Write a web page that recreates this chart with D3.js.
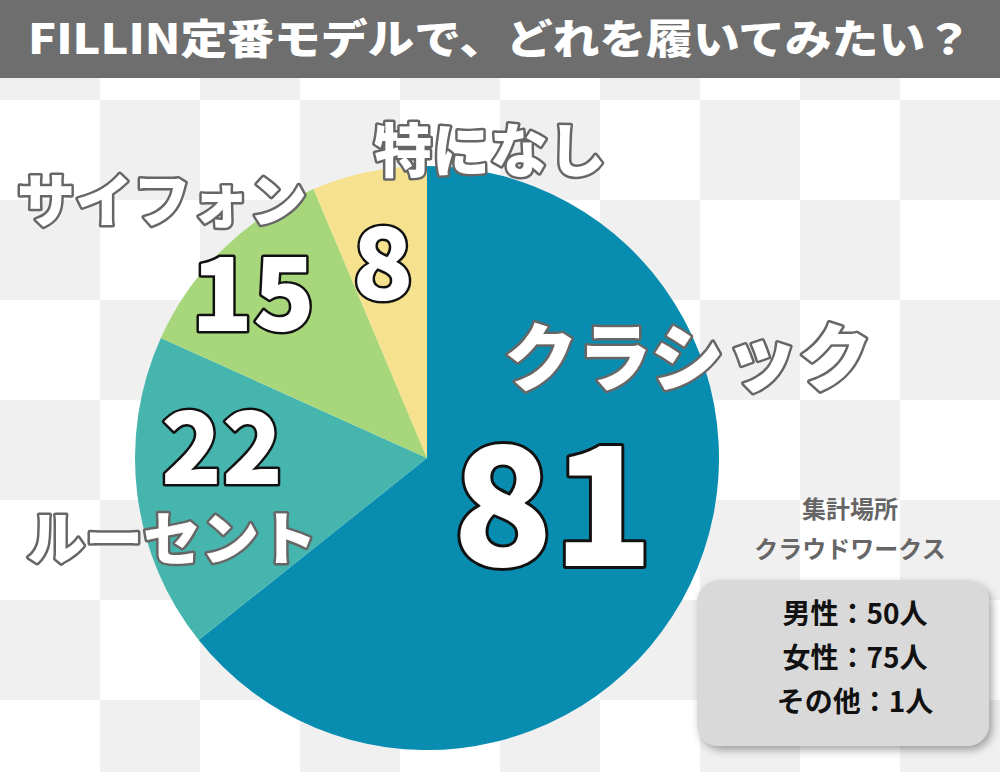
<!DOCTYPE html><html><head><meta charset="utf-8"><script src="https://cdn.jsdelivr.net/npm/d3@7"></script>
<style>body{margin:0}svg{display:block}</style></head><body><svg id="c" width="1000" height="772"></svg>
<script>
const categories=["クラシック","ルーセント","サイフォン","特になし"];
const values=[81,22,15,8];
const colors=["#088db0","#45b5ad","#a7d77a","#f6e28e"];
const title="FILLIN定番モデルで、どれを履いてみたい？";
const notes=["集計場所","クラウドワークス"];
const stats=["男性：50人","女性：75人","その他：1人"];
const F="'Noto Sans CJK JP',sans-serif";
const svg=d3.select("#c");
svg.append("rect").attr("width",1000).attr("height",772).attr("fill","#fff");
for(let r=0;r<8;r++)for(let c=0;c<10;c++)if((r+c)%2==0)svg.append("rect").attr("x",c*100).attr("y",r*100).attr("width",100).attr("height",100).attr("fill","#f0f0f0");
svg.append("rect").attr("width",1000).attr("height",78).attr("fill","#6e6e6e");
svg.append("text").attr("x",500).attr("y",54).attr("text-anchor","middle").attr("fill","#fff").attr("font-family",F).attr("font-weight",900).attr("font-size",41).attr("textLength",944).attr("lengthAdjust","spacingAndGlyphs").text(title);
const cx=427,cy=458,R=292;
const pie=d3.pie().sort(null)(values);
const arc=d3.arc().innerRadius(0).outerRadius(R);
const g=svg.append("g").attr("transform",`translate(${cx},${cy})`);
g.selectAll("path").data(pie).join("path").attr("d",arc).attr("fill",(d,i)=>colors[i]);
const lab=[{x:688,y:385,s:74},{x:172,y:560,s:58},{x:162,y:222,s:58},{x:490,y:172,s:58}];
const num=[{x:553,y:566,s:165},{x:222,y:484,s:100},{x:253,y:331,s:102},{x:383,y:300,s:100}];
categories.forEach((c,i)=>{
 svg.append("text").attr("x",lab[i].x).attr("y",lab[i].y).attr("text-anchor","middle").attr("font-family",F).attr("font-weight",900).attr("font-size",lab[i].s).attr("fill","#fff").attr("stroke","#666").attr("stroke-width",5).attr("paint-order","stroke").attr("stroke-linejoin","round").text(c);
 svg.append("text").attr("x",num[i].x).attr("y",num[i].y).attr("text-anchor","middle").attr("font-family",F).attr("font-weight",900).attr("font-size",num[i].s).attr("fill","#fff").attr("stroke","#111").attr("stroke-width",i==0?6:5).attr("paint-order","stroke").attr("stroke-linejoin","round").text(values[i]);
});
notes.forEach((t,i)=>svg.append("text").attr("x",850).attr("y",518+i*40).attr("text-anchor","middle").attr("font-family",F).attr("font-weight",700).attr("font-size",24).attr("fill","#666").text(t));
const df=svg.append("defs").append("filter").attr("id","sh").attr("x","-10%").attr("y","-10%").attr("width","130%").attr("height","130%");
df.append("feDropShadow").attr("dx",3).attr("dy",4).attr("stdDeviation",4).attr("flood-opacity",0.35);
svg.append("rect").attr("x",697).attr("y",580).attr("width",292).attr("height",166).attr("rx",22).attr("fill","#d9d9d9").attr("filter","url(#sh)");
stats.forEach((t,i)=>svg.append("text").attr("x",855).attr("y",624+i*44).attr("text-anchor","middle").attr("font-family",F).attr("font-weight",700).attr("font-size",28).attr("fill","#111").text(t));
</script></body></html>
